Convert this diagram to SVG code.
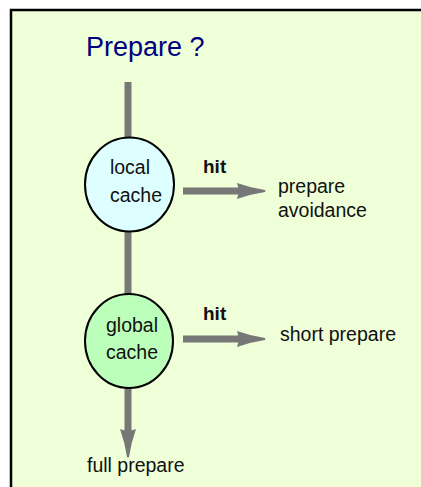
<svg xmlns="http://www.w3.org/2000/svg" width="421" height="487" viewBox="0 0 421 487">
  <style>
    .lbl { font-family: "Liberation Sans", Arial, sans-serif; font-size: 19.5px; fill: #111; }
    .hit { font-family: "Liberation Sans", Arial, sans-serif; font-size: 19px; font-weight: bold; fill: #111; }
    .node { stroke: #000; stroke-width: 2; }
    .flow { stroke: #777; stroke-width: 7; fill: none; }
    .head { fill: #777; }
  </style>
  <defs>
    <!-- arrowhead pointing right, tip at origin -->
    <path id="ah" d="M-28,-8 Q-14,-3 0,-1 Q1,0 0,1 Q-14,3 -28,8 Q-25,0 -28,-8 Z"/>
  </defs>
  <rect x="0" y="0" width="421" height="487" fill="#fff"/>
  <rect x="11" y="10" width="440" height="500" fill="#EFFFD8" stroke="#000" stroke-width="2.5"/>
  <text x="86" y="56" style="font-family:'Liberation Sans',Arial,sans-serif;font-size:27px;fill:#000080">Prepare ?</text>

  <g id="connectors">
    <line class="flow" x1="128" y1="82" x2="128" y2="138"/>
    <line class="flow" x1="128" y1="231" x2="128" y2="295"/>
    <line class="flow" x1="183" y1="191" x2="240" y2="191"/>
    <use href="#ah" class="head" transform="translate(265,191)"/>
    <line class="flow" x1="183" y1="339" x2="240" y2="339"/>
    <use href="#ah" class="head" transform="translate(265,339)"/>
    <line class="flow" x1="128" y1="388" x2="128" y2="432"/>
    <use href="#ah" class="head" transform="translate(128,457) rotate(90)"/>
    <text class="hit" x="203" y="173">hit</text>
    <text class="hit" x="203" y="320">hit</text>
  </g>

  <g id="local-cache">
    <ellipse class="node" cx="129.5" cy="184.5" rx="44.5" ry="47" fill="#DDFFFF"/>
    <text class="lbl" x="130" y="174" text-anchor="middle">local</text>
    <text class="lbl" x="136" y="202" text-anchor="middle">cache</text>
  </g>

  <g id="global-cache">
    <ellipse class="node" cx="129" cy="341" rx="44" ry="47" fill="#BBFFBB"/>
    <text class="lbl" x="132" y="332" text-anchor="middle">global</text>
    <text class="lbl" x="132" y="359" text-anchor="middle">cache</text>
  </g>

  <g id="prepare-avoidance">
    <text class="lbl" x="278" y="193">prepare</text>
    <text class="lbl" x="278" y="217">avoidance</text>
  </g>

  <g id="short-prepare">
    <text class="lbl" x="280" y="341">short prepare</text>
  </g>

  <g id="full-prepare">
    <text class="lbl" x="87" y="472">full prepare</text>
  </g>
</svg>
